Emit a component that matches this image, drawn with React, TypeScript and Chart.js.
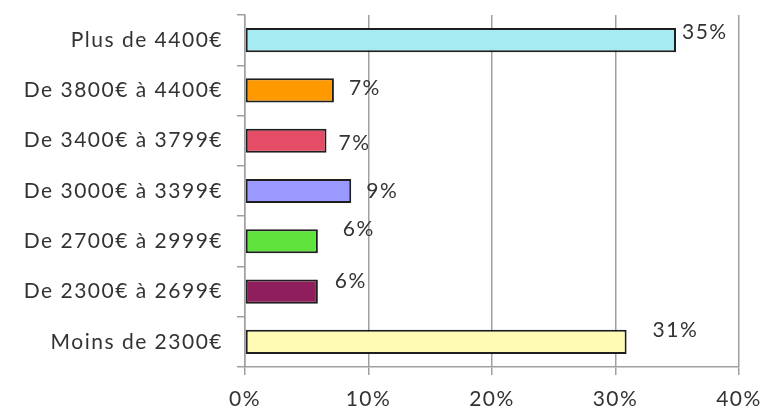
import React, { useEffect, useRef } from "react";
import { Chart, registerables } from "chart.js";

Chart.register(...registerables);

const categories = [
  "Plus de 4400€",
  "De 3800€ à 4400€",
  "De 3400€ à 3799€",
  "De 3000€ à 3399€",
  "De 2700€ à 2999€",
  "De 2300€ à 2699€",
  "Moins de 2300€",
];
const values = [34.9, 7.2, 6.6, 8.6, 5.9, 5.9, 30.9];
const valueLabels = ["35%", "7%", "7%", "9%", "6%", "6%", "31%"];
const barColors = ["#a6ebf2", "#ff9900", "#e54d66", "#9999ff", "#5ee43c", "#8e1f5c", "#fffbb4"];
const tickValues = [0, 10, 20, 30, 40];
// label offsets (style): dx from bar end, dy from bar center
const labelOffsets = [
  [6, -8],
  [15, -2],
  [12, 3],
  [15, 0],
  [25, -12],
  [17, -10],
  [26, -12],
];

const FONT = "Lato, 'DejaVu Sans', sans-serif";
const FONT_SIZE = 21;
const SPACING = "1.5px";

const spacingPlugin = {
  id: "spacing",
  beforeInit(chart: any) {
    chart.ctx.letterSpacing = SPACING;
  },
  beforeUpdate(chart: any) {
    chart.ctx.letterSpacing = SPACING;
  },
  beforeDraw(chart: any) {
    chart.ctx.letterSpacing = SPACING;
  },
};

const labelPlugin = {
  id: "valueLabels",
  afterDatasetsDraw(chart: any) {
    const ctx = chart.ctx;
    const meta = chart.getDatasetMeta(0);
    ctx.save();
    ctx.letterSpacing = SPACING;
    ctx.font = `${FONT_SIZE}px ${FONT}`;
    ctx.fillStyle = "#333333";
    ctx.textAlign = "left";
    ctx.textBaseline = "middle";
    meta.data.forEach((bar: any, i: number) => {
      const [dx, dy] = labelOffsets[i];
      ctx.fillText(valueLabels[i], bar.x + dx, bar.y + dy);
    });
    ctx.restore();
  },
};

export default function App() {
  const ref = useRef<HTMLCanvasElement>(null);
  useEffect(() => {
    if (!ref.current) return;
    const chart = new Chart(ref.current, {
      type: "bar",
      data: {
        labels: categories,
        datasets: [
          {
            data: values,
            backgroundColor: barColors,
            borderColor: "#1e1e1e",
            borderWidth: 2,
            borderSkipped: false,
            categoryPercentage: 1,
            barPercentage: 0.48,
          },
        ],
      },
      options: {
        indexAxis: "y",
        animation: false,
        responsive: false,
        maintainAspectRatio: false,
        layout: { padding: { top: 15, right: 24, left: 0, bottom: 0 } },
        plugins: { legend: { display: false }, tooltip: { enabled: false } },
        scales: {
          x: {
            min: 0,
            max: 40,
            afterBuildTicks: (s: any) => {
              s.ticks = tickValues.map((v) => ({ value: v }));
            },
            afterFit: (s: any) => {
              s.height = 42;
              s.paddingLeft = 0;
              s.paddingRight = 0;
            },
            grid: {
              color: "#a0a0a0",
              lineWidth: 1.5,
              tickLength: 8,
              drawOnChartArea: true,
            },
            border: { color: "#a0a0a0", width: 1.5 },
            ticks: {
              padding: 12,
              color: "#333333",
              font: { family: FONT, size: FONT_SIZE },
              callback: (v: any) => `${v}%`,
            },
          },
          y: {
            afterFit: (s: any) => {
              s.width = 245;
              s.paddingTop = 0;
              s.paddingBottom = 0;
            },
            grid: {
              offset: true,
              drawOnChartArea: false,
              tickLength: 8,
              color: "#a0a0a0",
              lineWidth: 1.5,
            },
            border: { color: "#a0a0a0", width: 1.5 },
            ticks: {
              padding: 14,
              color: "#333333",
              font: { family: FONT, size: FONT_SIZE },
            },
          },
        },
      },
      plugins: [spacingPlugin, labelPlugin],
    });
    return () => chart.destroy();
  }, []);
  return (
    <div style={{ position: "absolute", left: 0, top: 0, width: 763, height: 409, background: "#fff" }}>
      <canvas ref={ref} width={763} height={409} />
    </div>
  );
}
